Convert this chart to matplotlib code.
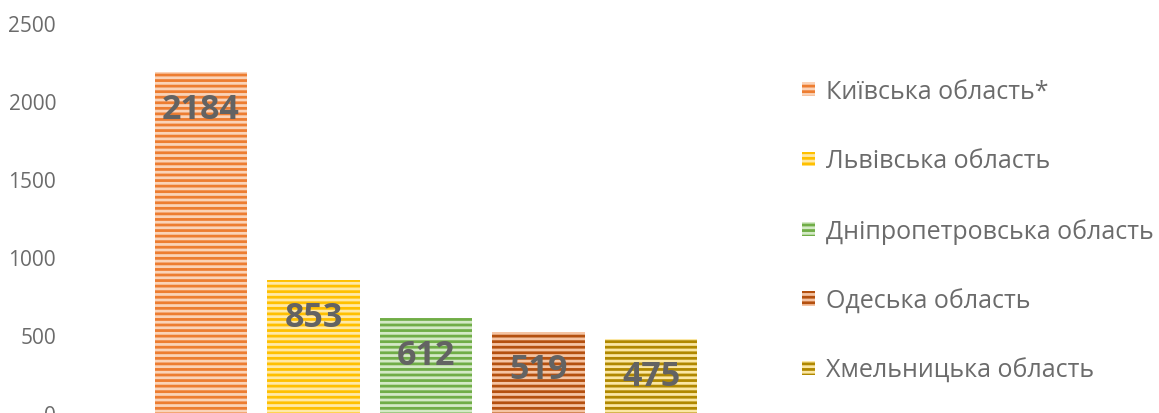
import matplotlib.pyplot as plt

regions = ['Київська область*', 'Львівська область', 'Дніпропетровська область',
           'Одеська область', 'Хмельницька область']
counts = [2184, 853, 612, 519, 475]
stripe_colors = ['#ED7D31', '#FFC000', '#70AD47', '#B4500F', '#B08800']
light_colors = ['#FAD3B8', '#FFE9A6', '#D4E9C6', '#F5C4A3', '#FBE7A4']

plt.rcParams['font.family'] = ['Open Sans', 'DejaVu Sans']
plt.rcParams['hatch.linewidth'] = 2.0

fig = plt.figure(figsize=(11.59, 4.14), dpi=100)
W, H = 1159, 414
ax = fig.add_axes([70 / W, 0, 712 / W, 390 / H])

x = list(range(len(counts)))
bars = []
for i in x:
    b = ax.bar(i, counts[i], width=0.82, color=light_colors[i], edgecolor=stripe_colors[i],
               linewidth=0, hatch='---', label=regions[i])
    bars.append(b[0])
    ax.annotate(str(counts[i]), (i, counts[i]), xytext=(0, -37), textcoords='offset pixels',
                ha='center', va='center', fontsize=24.5, fontweight='bold', color='#636363')

ax.set_xlim(-1.164, 5.164)
ax.set_ylim(0, 2500)
ax.set_yticks([0, 500, 1000, 1500, 2000, 2500])
ax.tick_params(axis='y', length=0, pad=10, labelsize=15, labelcolor='#6b6b6b')
ax.set_xticks([])
for s in ax.spines.values():
    s.set_visible(False)

fig.legend(handles=bars, labels=regions, loc='upper left', bbox_to_anchor=(802 / W, 1 - 80 / H),
           frameon=False, fontsize=18, labelcolor='#6b6b6b', handlelength=0.5, handleheight=0.5,
           handletextpad=0.45, labelspacing=1.78, borderaxespad=0, borderpad=0)

fig.savefig('out.png', dpi=100)
